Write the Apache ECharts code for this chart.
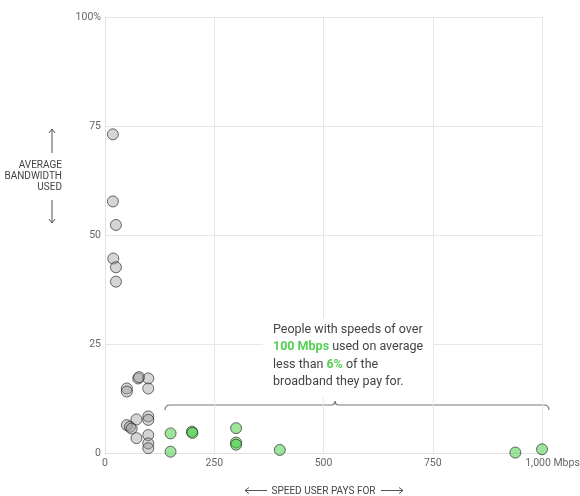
<!DOCTYPE html>
<html>
<head>
<meta charset="utf-8">
<script src="https://cdn.jsdelivr.net/npm/echarts@6/dist/echarts.min.js"></script>
<style>
html,body{margin:0;padding:0;background:#fff;}
#chart{width:580px;height:496px;}
</style>
</head>
<body>
<div id="chart"></div>
<script>
// Speed paid for (Mbps) and average bandwidth used (%)
const greySpeed = [18, 18, 25, 19, 25, 25, 50, 50, 76, 78, 99, 99, 50, 57, 61, 72, 72, 99, 99, 99, 99, 99];
const greyUsage = [73.1, 57.7, 52.3, 44.6, 42.6, 39.3, 14.8, 14.1, 17.1, 17.4, 17.1, 14.8, 6.4, 6.0, 5.6, 7.7, 3.4, 8.4, 7.6, 4.1, 2.2, 1.1];
const greenSpeed = [150, 150, 199, 200, 300, 300, 300, 400, 939, 1000];
const greenUsage = [4.5, 0.3, 4.9, 4.6, 5.7, 2.4, 1.9, 0.7, 0.1, 0.85];
const xTicks = {0: '0', 250: '250', 500: '500', 750: '750', 1000: '1,000 Mbps'};
const yTicks = {0: '0', 25: '25', 50: '50', 75: '75', 100: '100%'};

const FONT = "'Liberation Sans Narrow', Roboto, sans-serif";
const chart = echarts.init(document.getElementById('chart'));
const pairs = (xs, ys) => xs.map((x, i) => [x, ys[i]]);
const bracketStyle = {stroke: '#777', fill: null, lineWidth: 1.2};
const arrowStyle = {stroke: '#555', fill: null, lineWidth: 1};

chart.setOption({
  animation: false,
  grid: {left: 105, right: 38, top: 17, bottom: 43, outerBoundsMode: 'none', containLabel: false},
  xAxis: {
    type: 'value', min: 0, max: 1000, interval: 250,
    axisLine: {show: true, lineStyle: {color: '#e2e2e2'}},
    axisTick: {show: false},
    splitLine: {show: true, lineStyle: {color: '#e6e6e6'}},
    axisLabel: {
      margin: 5, color: '#666', fontSize: 10.5, fontFamily: FONT,
      formatter: v => v === 1000 ? '{m|' + xTicks[v] + '}' : xTicks[v],
      rich: {m: {padding: [0, 0, 0, 21], color: '#666', fontSize: 10.5, fontFamily: FONT}}
    },
    name: 'SPEED USER PAYS FOR',
    nameLocation: 'middle', nameGap: 33,
    nameTextStyle: {color: '#444', fontSize: 10, fontFamily: FONT}
  },
  yAxis: {
    type: 'value', min: 0, max: 100, interval: 25,
    axisLine: {show: true, lineStyle: {color: '#e2e2e2'}},
    axisTick: {show: false},
    splitLine: {show: true, lineStyle: {color: '#e6e6e6'}},
    axisLabel: {
      margin: 4, color: '#666', fontSize: 10.5, fontFamily: FONT,
      formatter: v => yTicks[v]
    }
  },
  series: [
    {
      type: 'scatter', data: pairs(greySpeed, greyUsage), symbolSize: 11,
      itemStyle: {color: 'rgba(150,150,150,0.5)', borderColor: 'rgba(40,40,40,0.85)', borderWidth: 1}
    },
    {
      type: 'scatter', data: pairs(greenSpeed, greenUsage), symbolSize: 11,
      itemStyle: {color: 'rgba(50,200,50,0.6)', borderColor: 'rgba(40,40,40,0.85)', borderWidth: 1}
    }
  ],
  graphic: [
    {
      type: 'text', x: 62, y: 160,
      style: {text: 'AVERAGE\nBANDWIDTH\nUSED', align: 'right', fill: '#444', fontSize: 10, lineHeight: 11, fontFamily: FONT}
    },
    {type: 'line', shape: {x1: 52, y1: 129, x2: 52, y2: 153}, style: arrowStyle},
    {type: 'polyline', shape: {points: [[49, 133], [52, 129], [55, 133]]}, style: arrowStyle},
    {type: 'line', shape: {x1: 52, y1: 200, x2: 52, y2: 223}, style: arrowStyle},
    {type: 'polyline', shape: {points: [[49, 219], [52, 223], [55, 219]]}, style: arrowStyle},
    {type: 'line', shape: {x1: 245, y1: 490.5, x2: 267, y2: 490.5}, style: arrowStyle},
    {type: 'polyline', shape: {points: [[249, 487.5], [245, 490.5], [249, 493.5]]}, style: arrowStyle},
    {type: 'line', shape: {x1: 381, y1: 490.5, x2: 403, y2: 490.5}, style: arrowStyle},
    {type: 'polyline', shape: {points: [[399, 487.5], [403, 490.5], [399, 493.5]]}, style: arrowStyle},
    {type: 'bezierCurve', shape: {x1: 165, y1: 410, cpx1: 165, cpy1: 405, x2: 170, y2: 405}, style: bracketStyle},
    {type: 'line', shape: {x1: 170, y1: 405, x2: 331, y2: 405}, style: bracketStyle},
    {type: 'bezierCurve', shape: {x1: 331, y1: 405, cpx1: 335, cpy1: 405, x2: 335, y2: 401}, style: bracketStyle},
    {type: 'bezierCurve', shape: {x1: 335, y1: 401, cpx1: 335, cpy1: 405, x2: 339, y2: 405}, style: bracketStyle},
    {type: 'line', shape: {x1: 339, y1: 405, x2: 544, y2: 405}, style: bracketStyle},
    {type: 'bezierCurve', shape: {x1: 544, y1: 405, cpx1: 549, cpy1: 405, x2: 549, y2: 410}, style: bracketStyle},
    {
      type: 'text', x: 263, y: 318, z: 10,
      style: {
        text: 'People with speeds of over\n{g|100 Mbps} used on average\nless than {g|6%} of the\nbroadband they pay for.',
        fill: '#444', fontSize: 12.5, lineHeight: 17.5, fontFamily: "Roboto, sans-serif",
        backgroundColor: '#fff', padding: [3, 10, 6, 10],
        rich: {g: {fill: '#55cf55', fontWeight: 'bold', fontSize: 12.5, lineHeight: 17.5, fontFamily: "Roboto, sans-serif"}}
      }
    }
  ]
});
</script>
</body>
</html>
